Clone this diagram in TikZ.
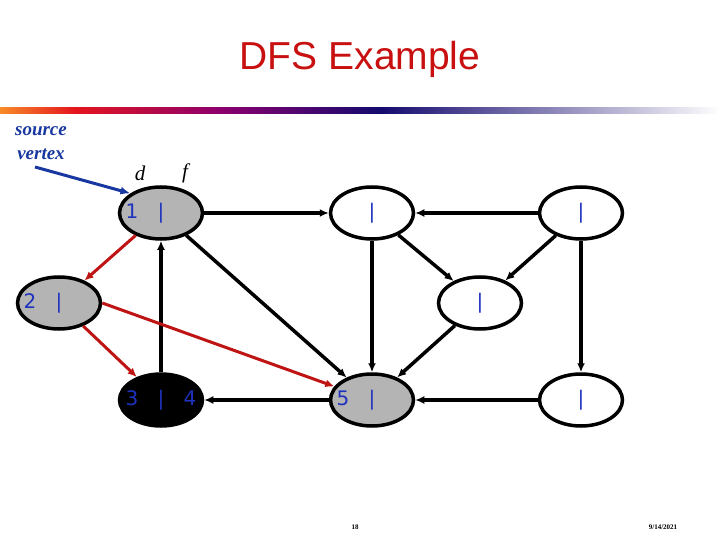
\documentclass[tikz,border=0pt]{standalone}
\usepackage{fontspec}
\setmainfont{Liberation Serif}
\newfontfamily\titlefont{Liberation Sans}
\newfontfamily\vertfont{DejaVu Sans}
\usepackage{xcolor}
\usetikzlibrary{shapes.geometric, arrows.meta}

\definecolor{titlered}{RGB}{200,16,16}
\definecolor{srcblue}{RGB}{25,55,160}
\definecolor{labblue}{RGB}{30,50,190}
\definecolor{treered}{RGB}{190,20,20}
\definecolor{visited}{RGB}{180,180,180}
\definecolor{barorange}{RGB}{248,140,40}
\definecolor{barred}{RGB}{228,20,30}
\definecolor{barpurple}{RGB}{140,0,110}
\definecolor{barnavy}{RGB}{20,10,110}

\newcommand{\df}[2]{\makebox[29pt]{#1}\makebox[29pt]{|}\makebox[29pt]{#2}}

\begin{document}
\begin{tikzpicture}[x=1pt, y=-1pt,
        vert/.style={ellipse, draw, line width=3.5pt, minimum width=83pt,
                     minimum height=52pt, inner sep=0pt, fill=#1},
        vert/.default=white,
        dfs/.style={font=\vertfont\fontsize{20}{21}\selectfont, text=labblue},
        src/.style={font=\fontsize{19}{20}\selectfont\bfseries\itshape, text=srcblue},
        arrow/.style={-{Latex[length=9pt, width=8pt]}, line width=3.5pt},
        tree/.style={-{Latex[length=9pt, width=8pt]}, line width=3pt, color=treered}
    ]
        \useasboundingbox (0,0) rectangle (720,540);

        % Title and bar
        \node[font=\titlefont\fontsize{39}{40}\selectfont, text=titlered] (title) at (360,59) {DFS Example};
        \shade[left color=barorange, right color=barred] (0,108) rectangle (75,114);
        \shade[left color=barred, right color=barpurple] (75,108) rectangle (220,114);
        \shade[left color=barpurple, right color=barnavy] (220,108) rectangle (380,114);
        \shade[left color=barnavy, right color=white] (380,108) rectangle (720,114);

        % Nodes
        \node[vert=visited, label={[dfs]center:\df{1}{}}] (a) at (161,213) {};
        \node[vert, label={[dfs]center:\df{}{}}] (b) at (372,213) {};
        \node[vert, label={[dfs]center:\df{}{}}] (c) at (581,213) {};
        \node[vert=visited, label={[dfs]center:\df{2}{}}] (d) at (59,303) {};
        \node[vert, label={[dfs]center:\df{}{}}] (e) at (480,303) {};
        \node[vert=black, label={[dfs]center:\df{3}{4}}] (f) at (161,400) {};
        \node[vert=visited, label={[dfs]center:\df{5}{}}] (g) at (372,400) {};
        \node[vert, label={[dfs]center:\df{}{}}] (h) at (581,400) {};

        % Labels
        \node[src] (src1) at (41,131) {source};
        \node[src] (src2) at (41,154) {vertex};
        \node[font=\fontsize{21}{22}\selectfont\itshape] (dlab) at (140,173) {d};
        \node[font=\fontsize{21}{22}\selectfont\itshape] (flab) at (185,173) {f};
        \coordinate (srcend) at (35,167);
        \node[font=\fontsize{7}{8}\selectfont\bfseries] (page) at (355,527) {18};
        \node[font=\fontsize{7}{8}\selectfont\bfseries] (date) at (663,527) {9/14/2021};

        % Arrows
        \draw[-{Latex[length=10pt, width=8pt]}, line width=3pt, srcblue] (srcend) -- (a.north west);
        \draw[arrow] (a) -- (b);
        \draw[arrow] (c) -- (b);
        \draw[arrow] (b) -- (e);
        \draw[arrow] (c) -- (e);
        \draw[arrow] (b) -- (g);
        \draw[arrow] (e) -- (g);
        \draw[arrow] (c) -- (h);
        \draw[arrow] (h) -- (g);
        \draw[arrow] (g) -- (f);
        \draw[arrow] (f) -- (a);
        \draw[arrow] (a) -- (g);
        \draw[tree] (a) -- (d);
        \draw[tree] (d) -- (f);
        \draw[tree] (d.east) -- (g);
    \end{tikzpicture}
\end{document}
